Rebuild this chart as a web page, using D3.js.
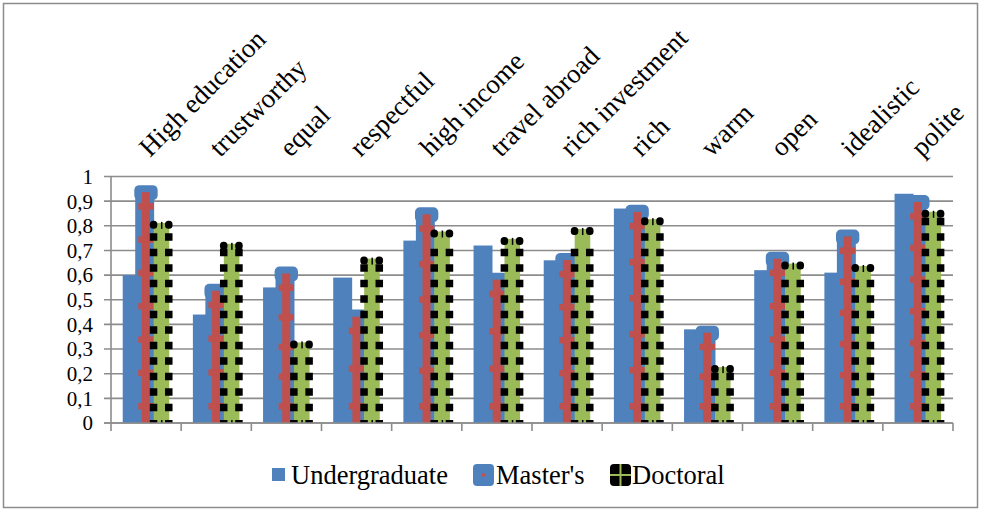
<!DOCTYPE html>
<html>
<head>
<meta charset="utf-8">
<script src="https://cdn.jsdelivr.net/npm/d3@7"></script>
<style>
  body { margin: 0; background: #fff; }
  text { font-family: "Liberation Serif", "Times New Roman", serif; fill: #000; }
</style>
</head>
<body>
<svg id="chart" width="981" height="512"></svg>
<script>
// categories along the x axis
const categories = ["High education", "trustworthy", "equal", "respectful", "high income", "travel abroad",
  "rich investment", "rich", "warm", "open", "idealistic", "polite"];
// series values
const undergraduate = [0.60, 0.44, 0.55, 0.59, 0.74, 0.72, 0.66, 0.87, 0.38, 0.62, 0.61, 0.93];
const masters = [0.965, 0.565, 0.635, 0.46, 0.875, 0.61, 0.69, 0.885, 0.395, 0.695, 0.785, 0.925];
const doctoral = [0.82, 0.735, 0.335, 0.675, 0.785, 0.755, 0.795, 0.835, 0.235, 0.655, 0.645, 0.865];
const yTicks = [0, 0.1, 0.2, 0.3, 0.4, 0.5, 0.6, 0.7, 0.8, 0.9, 1];
const seriesNames = ["Undergraduate", "Master's", "Doctoral"];

const blue = "#4F81BD", red = "#C0504D", green = "#9BBB59", grid = "#8c8c8c";

const svg = d3.select("#chart");

// outer frame
svg.append("rect")
  .attr("x", 3.5).attr("y", 3.5)
  .attr("width", 974).attr("height", 504)
  .attr("fill", "none").attr("stroke", "#8c8c8c").attr("stroke-width", 1.5);

const x = d3.scaleBand().domain(categories).range([111, 953]).padding(0);
const y = d3.scaleLinear().domain([0, 1]).range([423, 176.5]);
const bw = x.bandwidth();
const base = y(0);

// gridlines
svg.append("g")
  .selectAll("line")
  .data(yTicks)
  .join("line")
  .attr("x1", 104).attr("x2", 953)
  .attr("y1", d => y(d)).attr("y2", d => y(d))
  .attr("stroke", grid).attr("stroke-width", 1.6);

// y axis line
svg.append("line")
  .attr("x1", 111).attr("x2", 111)
  .attr("y1", y(1)).attr("y2", base)
  .attr("stroke", grid).attr("stroke-width", 1.6);

// y labels (decimal comma)
svg.append("g")
  .selectAll("text")
  .data(yTicks)
  .join("text")
  .attr("x", 93)
  .attr("y", d => y(d))
  .attr("dy", "0.35em")
  .attr("text-anchor", "end")
  .style("font-size", "21px")
  .text(d => (d === 0 || d === 1) ? String(d) : d3.format(".1f")(d).replace(".", ","));

// category ticks below axis
svg.append("g")
  .selectAll("line")
  .data(d3.range(categories.length + 1))
  .join("line")
  .attr("x1", i => 111 + i * bw).attr("x2", i => 111 + i * bw)
  .attr("y1", base).attr("y2", base + 8)
  .attr("stroke", grid).attr("stroke-width", 1.6);

const bars = svg.append("g");

categories.forEach((c, i) => {
  const s = x(c);
  const g = bars.append("g");

  // Undergraduate
  g.append("rect")
    .attr("x", s + 0.167 * bw).attr("y", y(undergraduate[i]))
    .attr("width", 0.27 * bw).attr("height", base - y(undergraduate[i]))
    .attr("fill", blue);

  // Master's: blue body + rounded cap, red stripe and crosses
  const mTop = y(masters[i]);
  g.append("rect")
    .attr("x", s + 0.345 * bw).attr("y", mTop + 4)
    .attr("width", 0.27 * bw).attr("height", base - mTop - 4)
    .attr("fill", blue);
  g.append("rect")
    .attr("x", s + 0.332 * bw).attr("y", mTop)
    .attr("width", 0.333 * bw).attr("height", 15)
    .attr("rx", 5)
    .attr("fill", blue);
  g.append("rect")
    .attr("x", s + 0.44 * bw).attr("y", mTop + 7)
    .attr("width", 0.115 * bw).attr("height", base - mTop - 7)
    .attr("fill", red);
  const h = base - mTop;
  const n = Math.round((h - 38) / 33) + 1;
  const step = n > 1 ? (h - 38) / (n - 1) : 0;
  for (let k = 0; k < n; k++) {
    g.append("rect")
      .attr("x", s + 0.389 * bw).attr("y", base - 17 - k * step - 3)
      .attr("width", 0.219 * bw).attr("height", 6.5)
      .attr("fill", red);
  }

  // Doctoral: green stripe with black squares
  const dTop = y(doctoral[i]);
  g.append("rect")
    .attr("x", s + 0.608 * bw).attr("y", dTop + 2)
    .attr("width", 0.222 * bw).attr("height", base - dTop - 2)
    .attr("fill", green);
  const sq = 7.5;
  for (let off = 15.5; off < base - dTop - 10; off += 15.5) {
    [0.553, 0.77].forEach(fx => {
      g.append("rect")
        .attr("x", s + fx * bw).attr("y", base - off - sq / 2)
        .attr("width", sq).attr("height", sq)
        .attr("fill", "#000");
    });
  }
  // top cap and bottom cap
  [0.553, 0.77].forEach(fx => {
    g.append("rect")
      .attr("x", s + fx * bw).attr("y", dTop)
      .attr("width", sq).attr("height", 8)
      .attr("rx", 3.5)
      .attr("fill", "#000");
    g.append("rect")
      .attr("x", s + fx * bw).attr("y", base - 3)
      .attr("width", sq).attr("height", 3)
      .attr("fill", "#000");
  });
  g.append("rect")
    .attr("x", s + 0.712 * bw).attr("y", dTop + 1)
    .attr("width", 1.5).attr("height", 7)
    .attr("fill", "#000");
  g.append("rect")
    .attr("x", s + 0.712 * bw).attr("y", base - 3)
    .attr("width", 1.5).attr("height", 3)
    .attr("fill", "#000");
});

// x axis line on top of bars
svg.append("line")
  .attr("x1", 104).attr("x2", 953)
  .attr("y1", base).attr("y2", base)
  .attr("stroke", grid).attr("stroke-width", 1.6);

// category labels, rotated
svg.append("g")
  .selectAll("text")
  .data(categories)
  .join("text")
  .attr("transform", d => `translate(${x(d) + bw / 2 + 4}, 158) rotate(-45)`)
  .style("font-size", "27px")
  .text(d => d);

// legend
const legend = svg.append("g");
legend.append("rect")
  .attr("x", 272).attr("y", 468).attr("width", 13).attr("height", 13).attr("fill", blue);
legend.append("text").attr("x", 291).attr("y", 484).style("font-size", "26.5px").text(seriesNames[0]);

legend.append("rect")
  .attr("x", 473).attr("y", 464).attr("width", 21).attr("height", 22).attr("rx", 4).attr("fill", blue);
legend.append("rect")
  .attr("x", 482).attr("y", 473.5).attr("width", 3).attr("height", 3).attr("fill", red);
legend.append("text").attr("x", 496).attr("y", 484).style("font-size", "26.5px").text(seriesNames[1]);

legend.append("rect")
  .attr("x", 610).attr("y", 464).attr("width", 21).attr("height", 22).attr("rx", 4).attr("fill", "#000");
legend.append("rect")
  .attr("x", 619.5).attr("y", 464).attr("width", 2).attr("height", 22).attr("fill", green);
legend.append("rect")
  .attr("x", 610).attr("y", 474).attr("width", 21).attr("height", 2).attr("fill", green);
legend.append("text").attr("x", 632).attr("y", 484).style("font-size", "26.5px").text(seriesNames[2]);
</script>
</body>
</html>
